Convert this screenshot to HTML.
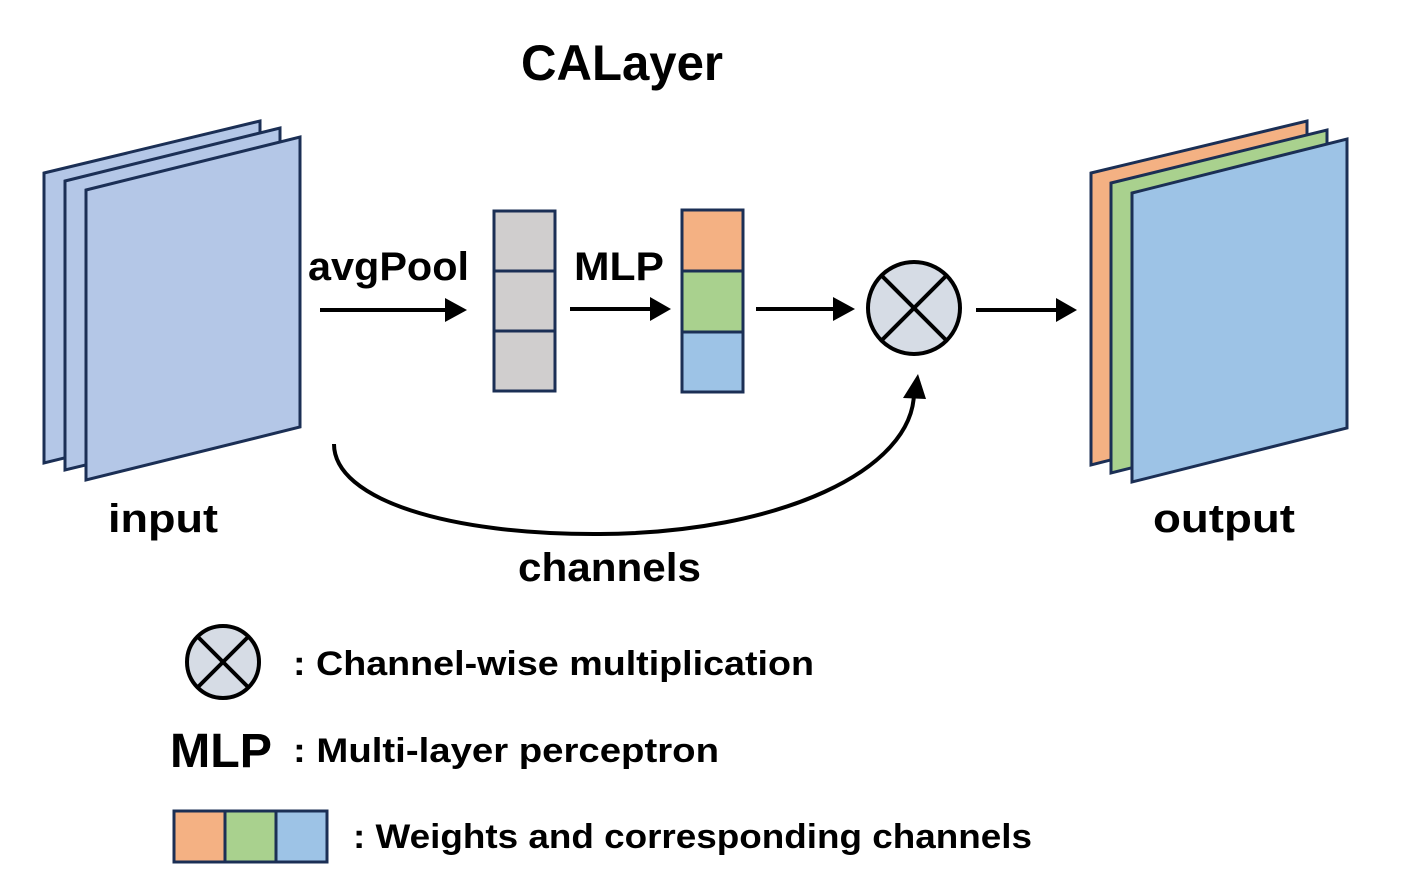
<!DOCTYPE html>
<html><head><meta charset="utf-8"><style>
html,body{margin:0;padding:0;background:#fff;}
svg{display:block;}
text{font-family:"Liberation Sans",sans-serif;font-weight:bold;fill:#000;}
</style></head><body>
<svg width="1405" height="895" viewBox="0 0 1405 895" xmlns="http://www.w3.org/2000/svg">
<defs>
<marker id="ah" markerWidth="10" markerHeight="10" refX="8" refY="5" orient="auto" markerUnits="userSpaceOnUse" viewBox="0 0 10 10">
</marker>
</defs>
<text x="521" y="80" font-size="50" textLength="202" lengthAdjust="spacingAndGlyphs">CALayer</text>

<g stroke="#1b2f55" stroke-width="3" stroke-linejoin="miter">
<polygon points="44,173 260,121 260,410 44,463" fill="#b4c7e7"/>
<polygon points="65,181 280,128 280,418 65,470" fill="#b4c7e7"/>
<polygon points="86,190 300,137 300,427 86,480" fill="#b4c7e7"/>

<polygon points="1091,173 1307,121 1307,410 1091,465" fill="#f4b183"/>
<polygon points="1111,183 1327,130 1327,419 1111,473" fill="#a9d18e"/>
<polygon points="1132,193 1347,139 1347,428 1132,482" fill="#9dc3e6"/>

<rect x="494" y="211" width="61" height="60" fill="#d0cece"/>
<rect x="494" y="271" width="61" height="60" fill="#d0cece"/>
<rect x="494" y="331" width="61" height="60" fill="#d0cece"/>

<rect x="682" y="210" width="61" height="61" fill="#f4b183"/>
<rect x="682" y="271" width="61" height="61" fill="#a9d18e"/>
<rect x="682" y="332" width="61" height="60" fill="#9dc3e6"/>
</g>

<g stroke="#000" stroke-width="4" fill="#d6dce5">
<circle cx="914" cy="308" r="46"/>
<line x1="882" y1="276" x2="946" y2="340"/>
<line x1="946" y1="276" x2="882" y2="340"/>
<circle cx="223" cy="662" r="36"/>
<line x1="198" y1="637" x2="248" y2="687"/>
<line x1="248" y1="637" x2="198" y2="687"/>
</g>

<g stroke="#000" stroke-width="4" fill="none">
<line x1="320" y1="310" x2="448" y2="310"/>
<line x1="570" y1="309" x2="652" y2="309"/>
<line x1="756" y1="309" x2="836" y2="309"/>
<line x1="976" y1="310" x2="1058" y2="310"/>
<path d="M334,444 C334,500 450,535 600,534 C780,533 914,470 914,392"/>
</g>
<g fill="#000">
<polygon points="445,298 467,310 445,322"/>
<polygon points="650,297 671,309 650,321"/>
<polygon points="833,297 855,309 833,321"/>
<polygon points="1056,298 1077,310 1056,322"/>
<polygon points="903,398 918,374 926,399"/>
</g>

<text x="308" y="280" font-size="40" textLength="161" lengthAdjust="spacingAndGlyphs">avgPool</text>
<text x="574" y="280" font-size="40" textLength="90" lengthAdjust="spacingAndGlyphs">MLP</text>
<text x="108" y="532" font-size="40" textLength="110" lengthAdjust="spacingAndGlyphs">input</text>
<text x="1153" y="532" font-size="40" textLength="142" lengthAdjust="spacingAndGlyphs">output</text>
<text x="518" y="581" font-size="40" textLength="183" lengthAdjust="spacingAndGlyphs">channels</text>

<text x="293" y="675" font-size="34" textLength="521" lengthAdjust="spacingAndGlyphs">: Channel-wise multiplication</text>
<text x="170" y="767" font-size="48" textLength="102" lengthAdjust="spacingAndGlyphs">MLP</text>
<text x="293" y="762" font-size="34" textLength="426" lengthAdjust="spacingAndGlyphs">: Multi-layer perceptron</text>
<text x="353" y="848" font-size="34" textLength="679" lengthAdjust="spacingAndGlyphs">: Weights and corresponding channels</text>

<g stroke="#1b2f55" stroke-width="3">
<rect x="174" y="811" width="51" height="51" fill="#f4b183"/>
<rect x="225" y="811" width="51" height="51" fill="#a9d18e"/>
<rect x="276" y="811" width="51" height="51" fill="#9dc3e6"/>
</g>
</svg>
</body></html>
